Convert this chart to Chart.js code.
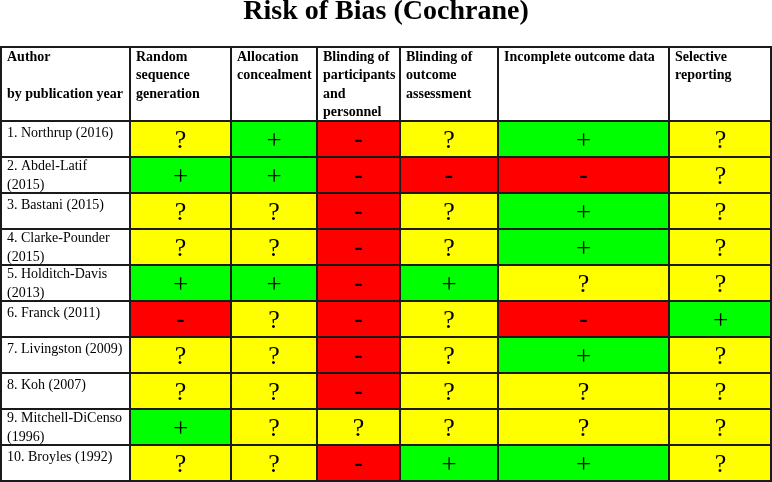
<!DOCTYPE html>
<html>
<head>
<meta charset="utf-8">
<script src="https://cdn.jsdelivr.net/npm/chart.js@4/dist/chart.umd.min.js"></script>
<style>
html,body{margin:0;padding:0;background:#fff;}
canvas{display:block;}
</style>
</head>
<body>
<canvas id="c" width="772" height="482" style="width:772px;height:482px"></canvas>
<script>
// ---- data ----
const chartTitle = "Risk of Bias (Cochrane)";
const authors = [
  ["1. Northrup (2016)"],
  ["2. Abdel-Latif", "(2015)"],
  ["3. Bastani (2015)"],
  ["4. Clarke-Pounder", "(2015)"],
  ["5. Holditch-Davis", "(2013)"],
  ["6. Franck (2011)"],
  ["7. Livingston (2009)"],
  ["8. Koh (2007)"],
  ["9. Mitchell-DiCenso", "(1996)"],
  ["10. Broyles (1992)"]
];
const headerLabels = [
  ["Author", "", "by publication year"],
  ["Random", "sequence", "generation"],
  ["Allocation", "concealment"],
  ["Blinding of", "participants", "and", "personnel"],
  ["Blinding of", "outcome", "assessment"],
  ["Incomplete outcome data"],
  ["Selective", "reporting"]
];
const randomSequence   = ["?", "+", "?", "?", "+", "-", "?", "?", "+", "?"];
const allocation       = ["+", "+", "?", "?", "+", "?", "?", "?", "?", "?"];
const blindingPart     = ["-", "-", "-", "-", "-", "-", "-", "-", "?", "-"];
const blindingOutcome  = ["?", "-", "?", "?", "+", "?", "?", "?", "?", "+"];
const incompleteData   = ["+", "-", "+", "+", "?", "-", "+", "?", "?", "+"];
const selectiveReport  = ["?", "?", "?", "?", "?", "+", "?", "?", "?", "?"];

// ---- layout / style ----
const domainColumns = [randomSequence, allocation, blindingPart, blindingOutcome, incompleteData, selectiveReport];
const columnWidths = [130, 101, 86, 83, 98, 171, 103];
const ratingColors = { "+": "#00ff00", "?": "#ffff00", "-": "#ff0000" };
const lineColor = "#1a1a1a";
const serif = '"Liberation Serif", "Times New Roman", serif';
const tableTop = 46;

const totalWidth = columnWidths.reduce((a, b) => a + b, 0);
const rowLabels = authors.map(a => a.join(" "));

const datasets = [{
  label: "Author",
  data: authors.map(() => columnWidths[0]),
  backgroundColor: "#ffffff"
}].concat(domainColumns.map((col, i) => ({
  label: headerLabels[i + 1].join(" "),
  data: col.map(() => columnWidths[i + 1]),
  backgroundColor: col.map(r => ratingColors[r]),
  ratings: col
})));

const symbolStyle = {
  "?": { font: "26px ", dy: 0 },
  "+": { font: "27px ", dy: 0.3 },
  "-": { font: "bold 25px ", dy: 1 }
};

const tablePlugin = {
  id: "tablePlugin",
  afterDraw(chart) {
    const ctx = chart.ctx;
    const xs = chart.scales.x;
    const area = chart.chartArea;
    const edges = [0];
    columnWidths.forEach(w => edges.push(edges[edges.length - 1] + w));
    const px = edges.map(v => xs.getPixelForValue(v));

    ctx.save();
    // title
    ctx.fillStyle = "#000";
    ctx.font = "bold 28px " + serif;
    ctx.textAlign = "center";
    ctx.textBaseline = "alphabetic";
    ctx.fillText(chartTitle, (px[0] + px[px.length - 1]) / 2, 19);

    // header cells
    const hTop = tableTop, hBot = area.top;
    ctx.fillStyle = "#fff";
    ctx.fillRect(px[0], hTop, px[px.length - 1] - px[0], hBot - hTop);
    ctx.strokeStyle = lineColor;
    ctx.lineWidth = 2;
    for (let i = 1; i < px.length - 1; i++) {
      ctx.beginPath();
      ctx.moveTo(px[i], hTop);
      ctx.lineTo(px[i], hBot);
      ctx.stroke();
    }
    ctx.lineWidth = 1;
    ctx.beginPath();
    ctx.moveTo(px[0], hBot - 0.5);
    ctx.lineTo(px[px.length - 1], hBot - 0.5);
    ctx.stroke();

    ctx.fillStyle = "#000";
    ctx.font = "bold 14px " + serif;
    ctx.textAlign = "left";
    ctx.textBaseline = "alphabetic";
    headerLabels.forEach((lines, c) => {
      lines.forEach((t, k) => {
        ctx.fillText(t, px[c] + (c === 0 ? 7 : 6), hTop + 15 + k * 18.3);
      });
    });

    // author labels
    ctx.font = "14px " + serif;
    const authorMeta = chart.getDatasetMeta(0);
    authorMeta.data.forEach((el, i) => {
      const top = el.y - el.height / 2;
      const lines = authors[i];
      const first = lines.length > 1 ? 12.5 : 15.5;
      lines.forEach((t, k) => {
        ctx.fillText(t, Math.min(el.x, el.base) + 7, top + first + k * 19);
      });
    });

    // rating symbols, glyph centred on the cell
    ctx.textAlign = "center";
    ctx.textBaseline = "alphabetic";
    chart.data.datasets.forEach((ds, d) => {
      if (!ds.ratings) return;
      chart.getDatasetMeta(d).data.forEach((el, i) => {
        const r = ds.ratings[i];
        const st = symbolStyle[r];
        ctx.font = st.font + serif;
        const m = ctx.measureText(r);
        const gh = m.actualBoundingBoxAscent - m.actualBoundingBoxDescent;
        const cx = (el.x + el.base) / 2;
        const cy = el.y + st.dy;
        ctx.fillText(r, cx, cy + gh / 2);
      });
    });

    // outer frame
    ctx.strokeStyle = lineColor;
    ctx.lineWidth = 2;
    ctx.strokeRect(px[0] + 1, tableTop + 1, px[px.length - 1] - px[0] - 2, area.bottom - tableTop);
    ctx.restore();
  }
};

new Chart(document.getElementById("c"), {
  type: "bar",
  data: { labels: rowLabels, datasets },
  options: {
    indexAxis: "y",
    responsive: false,
    animation: false,
    devicePixelRatio: 1,
    layout: { padding: { top: 121, bottom: 1, left: 0, right: 0 } },
    datasets: {
      bar: {
        barPercentage: 1,
        categoryPercentage: 1,
        borderWidth: 1,
        borderColor: lineColor,
        borderSkipped: false,
        inflateAmount: 0
      }
    },
    scales: {
      x: { stacked: true, min: 0, max: totalWidth, display: false },
      y: { stacked: true, display: false }
    },
    plugins: { legend: { display: false }, tooltip: { enabled: false }, title: { display: false } }
  },
  plugins: [tablePlugin]
});
</script>
</body>
</html>
